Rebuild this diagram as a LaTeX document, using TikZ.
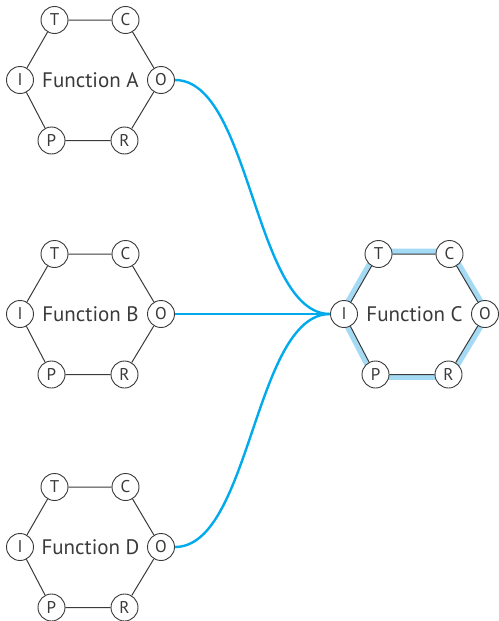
\documentclass[tikz,border=0pt]{standalone}
\usepackage{fontspec}
\setmainfont{PT Sans}
\definecolor{inkgray}{HTML}{3A3A3A}
\definecolor{linkblue}{RGB}{0,170,235}
\definecolor{paleblue}{HTML}{A4DAF4}
\tikzset{
  port/.style={circle, draw=inkgray, fill=white, line width=0.9pt,
    minimum size=27pt, inner sep=0pt, text=inkgray, font=\fontsize{17}{17}\selectfont},
  fname/.style={text=inkgray, inner sep=0pt, font=\fontsize{21}{21}\selectfont},
  hexedge/.style={draw=inkgray, line width=1pt},
  link/.style={draw=linkblue, line width=2.4pt},
  glow/.style={draw=paleblue, line width=5.5pt, line join=miter},
}
% one function: six ports on a hexagon around its name
\newcommand\funchex[4]{%
  \begin{scope}[shift={(#2,#3)}]
    \node[fname] (#1) at (0,0) {#4};
    \node[port] (#1-I) at (-70.5,0) {I};
    \node[port] (#1-T) at (-36,-60) {T};
    \node[port] (#1-C) at (35,-60) {C};
    \node[port] (#1-O) at (70.5,0) {O};
    \node[port] (#1-R) at (34,60.5) {R};
    \node[port] (#1-P) at (-39,60.5) {P};
  \end{scope}
  \draw[hexedge] (#1-I) -- (#1-T) -- (#1-C) -- (#1-O) -- (#1-R) -- (#1-P) -- (#1-I);
}
\begin{document}
\begin{tikzpicture}[x=1pt,y=-1pt]
  \useasboundingbox (0,0) rectangle (498,621);
  % highlight band around the target function
  \begin{scope}[shift={(414.5,314)}, scale=1.045]
    \draw[glow] (-70.5,0) -- (-36,-60) -- (35,-60) -- (70.5,0) -- (34,60.5) -- (-39,60.5) -- cycle;
  \end{scope}
  \funchex{a}{90.5}{80}{Function A}
  \funchex{b}{90.5}{314}{Function B}
  \funchex{d}{90.5}{547}{Function D}
  \funchex{c}{414.5}{314}{Function C}
  % outputs feeding the input of Function C
  \draw[link] (a-O) .. controls +(90,0) and +(-90,0) .. (c-I);
  \draw[link] (b-O) -- (c-I);
  \draw[link] (d-O) .. controls +(90,0) and +(-90,0) .. (c-I);
\end{tikzpicture}
\end{document}
